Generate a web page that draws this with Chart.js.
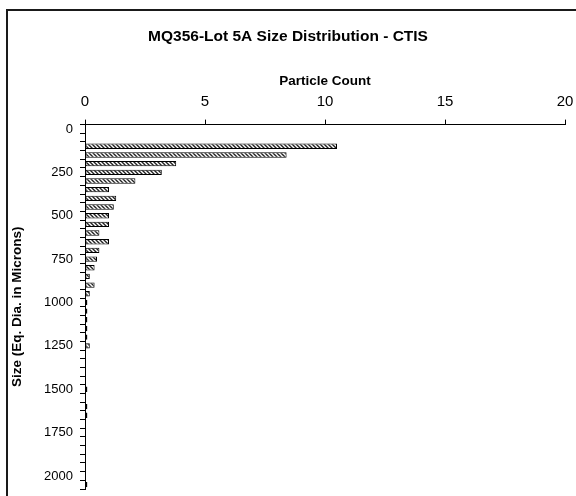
<!DOCTYPE html>
<html>
<head>
<meta charset="utf-8">
<script src="https://cdn.jsdelivr.net/npm/chart.js@4"></script>
<style>
    html, body { margin: 0; padding: 0; background: #fff; }
    #wrap { position: relative; width: 576px; height: 496px; overflow: hidden; }
    #frame { position: absolute; left: 6px; top: 9px; width: 700px; height: 700px;
             border-left: 2px solid #1a1a1a; border-top: 2px solid #1a1a1a; }
    #chart { position: absolute; left: 0; top: 0; }
</style>
</head>
<body>
<div id="wrap">
    <div id="frame"></div>
    <canvas id="chart" width="576" height="496"></canvas>
</div>
<script>
// Kategori ukuran (mikron) dan jumlah partikel
const sizes = [0, 50, 100, 150, 200, 250, 300, 350, 400, 450, 500, 550, 600, 650, 700, 750, 800, 850, 900, 950,
    1000, 1050, 1100, 1150, 1200, 1250, 1300, 1350, 1400, 1450, 1500, 1550, 1600, 1650, 1700, 1750, 1800, 1850,
    1900, 1950, 2000, 2050];
const counts = [0, 0, 10.5, 8.4, 3.8, 3.2, 2.1, 1.0, 1.3, 1.2, 1.0, 1.0, 0.6, 1.0, 0.6, 0.5, 0.4, 0.2, 0.4, 0.2,
    0.1, 0.1, 0.1, 0.1, 0.1, 0.2, 0, 0, 0, 0, 0.1, 0, 0.1, 0.1, 0, 0, 0, 0,
    0, 0, 0, 0.1];
const countTicks = [0, 5, 10, 15, 20];

// Pola arsiran untuk batang
function makeHatch() {
    const p = document.createElement('canvas');
    p.width = 4;
    p.height = 4;
    const c = p.getContext('2d');
    c.fillStyle = '#ffffff';
    c.fillRect(0, 0, 4, 4);
    c.strokeStyle = '#222222';
    c.lineWidth = 1.4;
    c.beginPath();
    c.moveTo(0, 0); c.lineTo(4, 4);
    c.moveTo(-2, 2); c.lineTo(2, 6);
    c.moveTo(2, -2); c.lineTo(6, 2);
    c.stroke();
    return c.createPattern(p, 'repeat');
}

const ctx = document.getElementById('chart').getContext('2d');
const font = "'Liberation Sans', Arial, sans-serif";

new Chart(ctx, {
    type: 'bar',
    data: {
        labels: sizes,
        datasets: [{
            data: counts,
            backgroundColor: makeHatch(),
            borderColor: '#000000',
            borderWidth: 1,
            borderSkipped: false,
            categoryPercentage: 1.0,
            barPercentage: 0.62
        }]
    },
    options: {
        responsive: false,
        animation: false,
        indexAxis: 'y',
        layout: { padding: { left: 11, right: 11, top: 0, bottom: 7 } },
        plugins: {
            legend: { display: false },
            tooltip: { enabled: false },
            title: {
                display: true,
                text: 'MQ356-Lot 5A Size Distribution - CTIS',
                color: '#000',
                font: { family: font, size: 15.5, weight: 'bold' },
                padding: { top: 27, bottom: 0 }
            }
        },
        scales: {
            x: {
                position: 'top',
                min: 0,
                max: 20,
                afterBuildTicks: function (scale) {
                    scale.ticks = countTicks.map(v => ({ value: v }));
                },
                afterFit: function (scale) {
                    scale.height = 79;
                    scale.paddingLeft = 0;
                    scale.paddingRight = 0;
                },
                grid: {
                    drawOnChartArea: false,
                    drawTicks: true,
                    tickLength: 5,
                    color: '#000'
                },
                border: { color: '#000', width: 1 },
                ticks: {
                    color: '#000',
                    padding: 9,
                    maxRotation: 0,
                    font: { family: font, size: 15 }
                },
                title: {
                    display: true,
                    text: 'Particle Count',
                    color: '#000',
                    font: { family: font, size: 13.5, weight: 'bold' },
                    padding: { top: 28, bottom: 0 }
                }
            },
            y: {
                type: 'category',
                offset: true,
                afterFit: function (scale) {
                    scale.width = 74;
                    scale.paddingTop = 0;
                    scale.paddingBottom = 0;
                },
                grid: {
                    offset: true,
                    drawOnChartArea: false,
                    drawTicks: true,
                    tickLength: 5,
                    color: '#000'
                },
                border: { color: '#000', width: 1 },
                ticks: {
                    color: '#000',
                    autoSkip: false,
                    padding: 7,
                    font: { family: font, size: 13 },
                    callback: function (value) {
                        const s = sizes[value];
                        return s % 250 === 0 ? String(s) : '';
                    }
                },
                title: {
                    display: true,
                    text: 'Size (Eq. Dia. in Microns)',
                    color: '#000',
                    font: { family: font, size: 13.5, weight: 'bold' },
                    padding: { top: -2, bottom: 0 }
                }
            }
        }
    }
});
</script>
</body>
</html>
